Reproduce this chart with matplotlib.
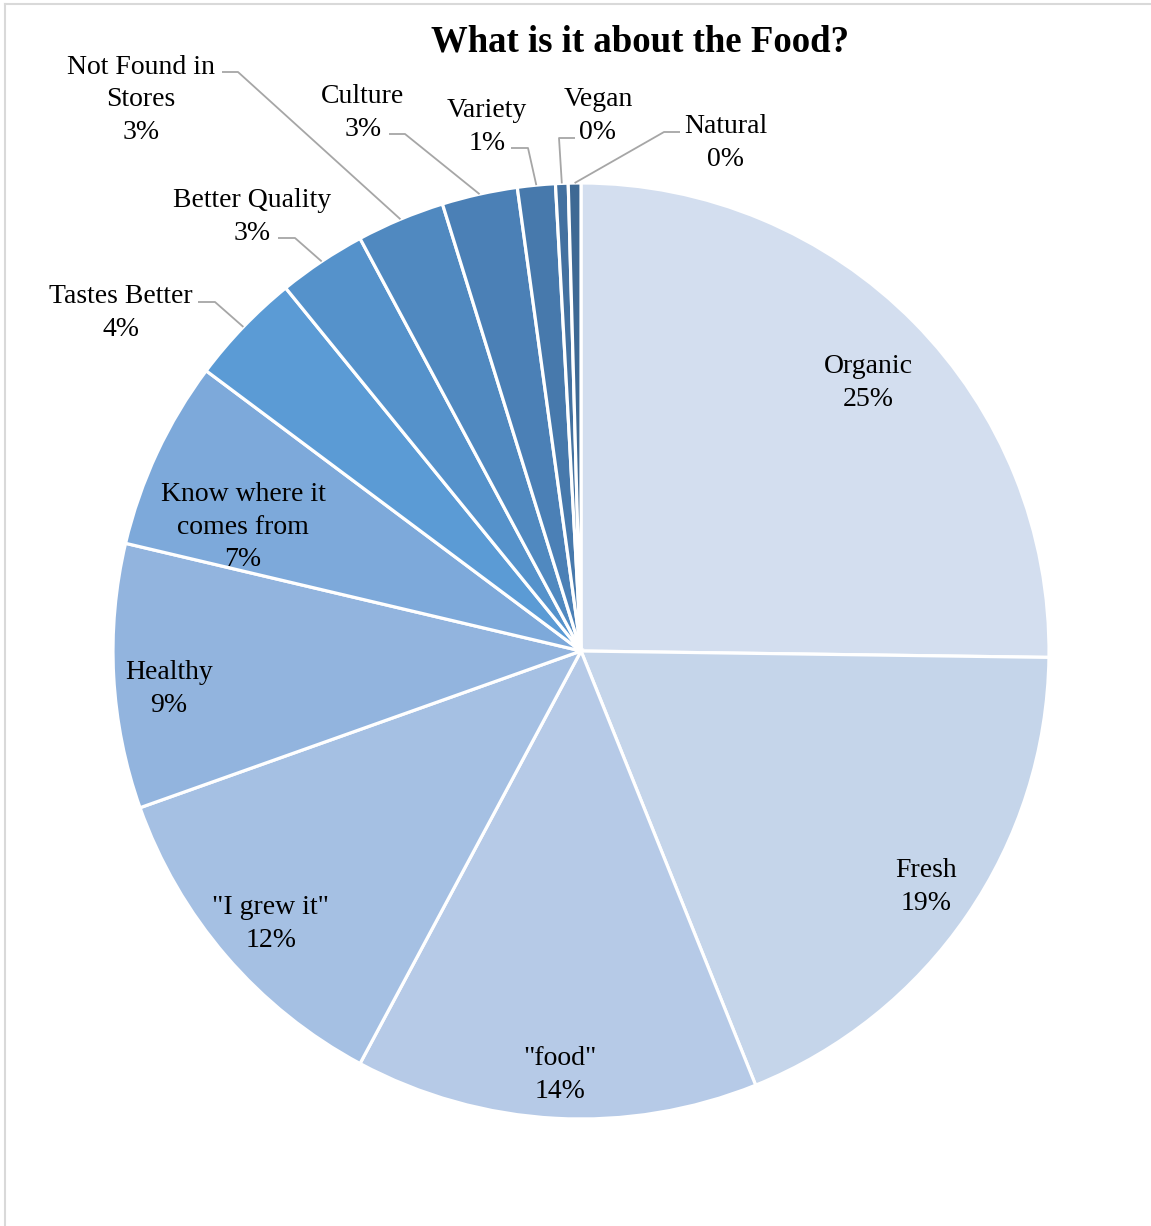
import matplotlib.pyplot as plt
import numpy as np

# responses per reason
categories = ["Organic", "Fresh", "\"food\"", "\"I grew it\"", "Healthy",
              "Know where it\ncomes from", "Tastes Better", "Better Quality",
              "Not Found in\nStores", "Culture", "Variety", "Vegan", "Natural"]
counts = [58, 43, 32, 27, 21, 15, 9, 7, 7, 6, 3, 1, 1]

colors = ["#D3DEEF", "#C5D5EA", "#B6CAE7", "#A5C0E3", "#92B4DE", "#7DA9DA",
          "#5B9BD5", "#5592CB", "#5089C0", "#4B80B6", "#4779AC", "#4371A0", "#3E6994"]

plt.rcParams['font.family'] = ['Liberation Serif', 'DejaVu Serif']

W, H = 1151, 1226
fig = plt.figure(figsize=(W / 100, H / 100), dpi=100)
ax = fig.add_axes([0, 0, 1, 1])

cx, cy, r = 581, H - 651, 468

wedges, _ = ax.pie(counts, colors=colors, startangle=90, counterclock=False,
                   center=(cx, cy), radius=r, labels=None,
                   wedgeprops=dict(edgecolor="white", linewidth=2.3),
                   frame=True)
ax.set_xlim(0, W)
ax.set_ylim(0, H)
ax.axis('off')

pct = np.array(counts) / sum(counts) * 100
labels = [f"{c}\n{p:.0f}%" for c, p in zip(categories, pct)]

LS = 1.38
DY = 3  # small downward nudge for label text

# inside labels: (x, y) in pixels from top-left
inside = {0: (868, 380), 1: (926, 884), 2: (560, 1072), 3: (271, 921),
          4: (169, 686), 5: (243, 524)}
for i, (x, y) in inside.items():
    ax.text(x, H - y - DY, labels[i], ha="center", va="center", fontsize=20,
            linespacing=LS)

# outside labels: text center, elbow start, elbow end
outside = {
    6: ((121, 310), (198, 302), (215, 302)),
    7: ((252, 214), (278, 238), (295, 238)),
    8: ((141, 97), (222, 72), (238, 72)),
    9: ((363, 110), (389, 134), (405, 134)),
    10: ((487, 124), (511, 148), (528, 148)),
    11: ((598, 113), (575, 138), (559, 138)),
    12: ((726, 140), (680, 132), (664, 132)),
}
for i, (tpos, p0, p1) in outside.items():
    ax.text(tpos[0], H - tpos[1] - DY, labels[i], ha="center", va="center",
            fontsize=20, linespacing=LS)
    w = wedges[i]
    mid = np.deg2rad((w.theta1 + w.theta2) / 2)
    ex = cx + r * np.cos(mid)
    ey = cy + r * np.sin(mid)
    ax.plot([p0[0], p1[0], ex], [H - p0[1], H - p1[1], ey],
            color="#A6A6A6", lw=1.3, solid_capstyle="butt")

ax.text(640, H - 42, "What is it about the Food?", ha="center", va="center",
        fontsize=26.5, fontweight="bold")

# chart border (top and left visible)
ax.plot([5, W], [H - 4, H - 4], color="#D9D9D9", lw=1.5)
ax.plot([5, 5], [0, H - 4], color="#D9D9D9", lw=1.5)

fig.savefig("out.png", dpi=100)
